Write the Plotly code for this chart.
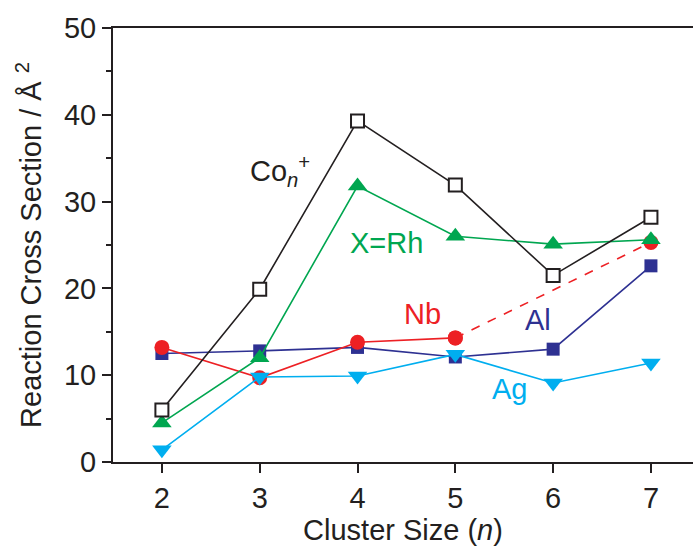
import plotly.graph_objects as go

cluster_sizes = [2, 3, 4, 5, 6, 7]
co_values = [6.0, 19.9, 39.3, 31.9, 21.5, 28.2]
rh_values = [4.5, 12.0, 31.8, 26.0, 25.1, 25.6]
al_values = [12.5, 12.8, 13.2, 12.1, 13.0, 22.6]
ag_values = [1.4, 9.8, 9.9, 12.4, 9.1, 11.4]
nb_sizes = [2, 3, 4, 5, 7]
nb_values = [13.2, 9.7, 13.8, 14.3, 25.3]

y_ticks = [0, 10, 20, 30, 40, 50]

BLACK = "#231F20"
GREEN = "#00A650"
RED = "#ED2024"
NAVY = "#2E3192"
CYAN = "#00AEEF"

fig = go.Figure()

fig.add_trace(go.Scatter(x=cluster_sizes, y=al_values, mode="lines+markers",
                         line=dict(color=NAVY, width=1.6),
                         marker=dict(symbol="square", size=13, color=NAVY)))
fig.add_trace(go.Scatter(x=nb_sizes[:4], y=nb_values[:4], mode="lines+markers",
                         line=dict(color=RED, width=1.6),
                         marker=dict(symbol="circle", size=15, color=RED)))
fig.add_trace(go.Scatter(x=nb_sizes[3:], y=nb_values[3:], mode="lines+markers",
                         line=dict(color=RED, width=1.6, dash="dash"),
                         marker=dict(symbol="circle", size=15, color=RED)))
fig.add_trace(go.Scatter(x=cluster_sizes, y=ag_values, mode="lines+markers",
                         line=dict(color=CYAN, width=1.6),
                         marker=dict(symbol="triangle-down", size=17, color=CYAN)))
fig.add_trace(go.Scatter(x=cluster_sizes, y=rh_values, mode="lines+markers",
                         line=dict(color=GREEN, width=1.6),
                         marker=dict(symbol="triangle-up", size=17, color=GREEN)))
fig.add_trace(go.Scatter(x=cluster_sizes, y=co_values, mode="lines+markers",
                         line=dict(color=BLACK, width=1.6),
                         marker=dict(symbol="square", size=13, color="white",
                                     line=dict(color=BLACK, width=2))))

font_family = "Liberation Sans, Arial, sans-serif"
labels = [
    (2.88, 33.5, "Co<sub><i>n</i></sub><sup>+</sup>", BLACK),
    (3.90, 25.2, "X=Rh", GREEN),
    (4.45, 17.05, "Nb", RED),
    (5.69, 16.4, "Al", NAVY),
    (5.35, 8.4, "Ag", CYAN),
]
for lx, ly, txt, col in labels:
    fig.add_annotation(x=lx, y=ly, text=txt, showarrow=False,
                       xanchor="left", yanchor="middle",
                       font=dict(family=font_family, size=29, color=col))

fig.update_layout(
    width=693, height=546,
    margin=dict(l=113, r=0, t=28, b=84),
    plot_bgcolor="white", paper_bgcolor="white",
    showlegend=False,
    font=dict(family=font_family, color=BLACK, size=29),
    xaxis=dict(range=[1.5, 7.43], tickvals=cluster_sizes,
               ticks="outside", ticklen=9, tickwidth=2, tickcolor=BLACK,
               showline=True, linewidth=2, linecolor=BLACK, mirror=True,
               showgrid=False, zeroline=False, automargin=False,
               tickfont=dict(size=29),
               title=dict(text="Cluster Size (<i>n</i>)", font=dict(size=29), standoff=6)),
    yaxis=dict(range=[0, 50], tickvals=y_ticks,
               ticks="outside", ticklen=9, tickwidth=2, tickcolor=BLACK,
               minor=dict(ticks="outside", ticklen=5, tickwidth=2, dtick=5, tickcolor=BLACK),
               showline=True, linewidth=2, linecolor=BLACK,
               showgrid=False, zeroline=False, automargin=False,
               tickfont=dict(size=29),
               title=dict(text="Reaction Cross Section / Å <sup>2</sup>", font=dict(size=29), standoff=14)),
)

fig.write_html("out.html", config={"displayModeBar": False},
               post_script="document.body.style.margin='0';")
